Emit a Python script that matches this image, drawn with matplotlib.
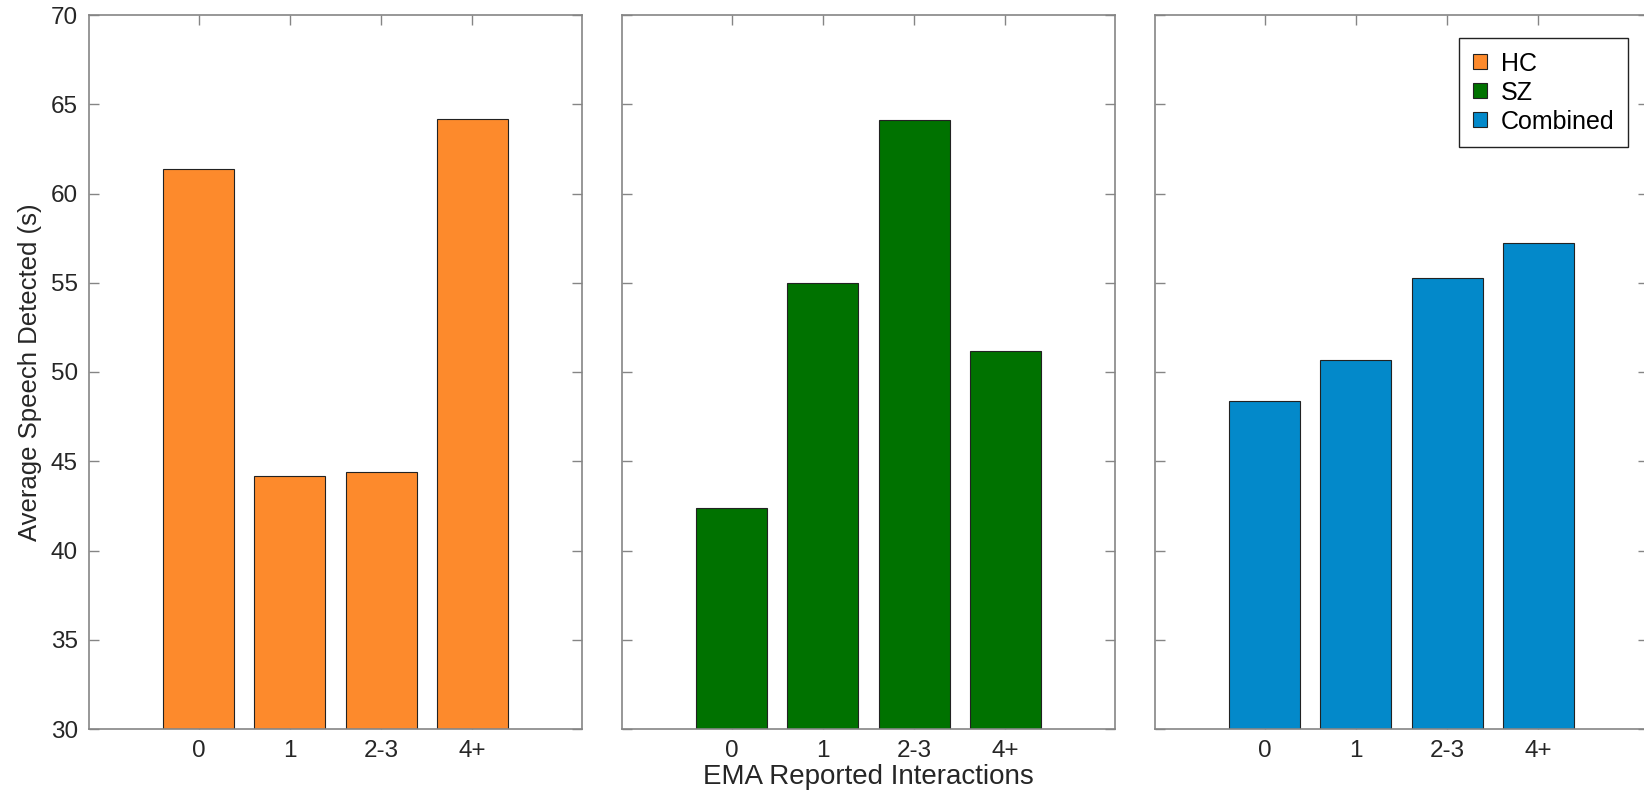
import matplotlib
matplotlib.use('Agg')
import matplotlib.pyplot as plt
from matplotlib.patches import Patch

plt.rcParams['font.family'] = ['Liberation Sans', 'DejaVu Sans']

categories = ['0', '1', '2-3', '4+']
hc_vals = [61.4, 44.2, 44.4, 64.2]
sz_vals = [42.4, 55.0, 64.1, 51.2]
comb_vals = [48.35, 50.7, 55.25, 57.2]
group_names = ['HC', 'SZ', 'Combined']
colors = ['#FD8A2C', '#007200', '#0389CA']

spine_col = '#858585'
text_col = '#262626'

fig = plt.figure(figsize=(16.44, 8.02), dpi=100)
lefts = [89 / 1644, 622 / 1644, 1155 / 1644]
w = 493 / 1644
bottom = 1 - 729 / 802
h = 714 / 802

axes = []
for i, (vals, col) in enumerate(zip([hc_vals, sz_vals, comb_vals], colors)):
    ax = fig.add_axes([lefts[i], bottom, w, h])
    x = range(1, len(categories) + 1)
    ax.bar(x, vals, width=0.78, color=col, edgecolor='#222222', linewidth=0.8, zorder=2)
    ax.set_xlim(-0.2, 5.2)
    ax.set_ylim(30, 70)
    ax.set_xticks(list(x))
    ax.set_xticklabels(categories)
    ax.set_yticks(range(30, 71, 5))
    ax.tick_params(direction='in', length=7, width=1, color=spine_col,
                   top=True, right=True, labelsize=17.5, labelcolor=text_col, pad=8)
    for s in ax.spines.values():
        s.set_color(spine_col)
        s.set_linewidth(1.2)
    if i > 0:
        ax.set_yticklabels([])
    axes.append(ax)

axes[0].set_ylabel('Average Speech Detected (s)', fontsize=18.5, color=text_col, labelpad=6)
axes[1].set_xlabel('EMA Reported Interactions', fontsize=20, color=text_col, labelpad=1)

handles = [Patch(facecolor=c, edgecolor='#222222', linewidth=0.8) for c in colors]
leg = axes[2].legend(handles, group_names, loc='upper right',
                     bbox_to_anchor=(0.9594, 0.9678), borderaxespad=0,
                     fontsize=18, fancybox=False, framealpha=1,
                     handlelength=0.55, handleheight=0.55, handletextpad=0.55,
                     labelspacing=0.2, borderpad=0.55)
leg.get_frame().set_edgecolor('#222222')
leg.get_frame().set_linewidth(1.0)

fig.savefig('out.png', dpi=100)
